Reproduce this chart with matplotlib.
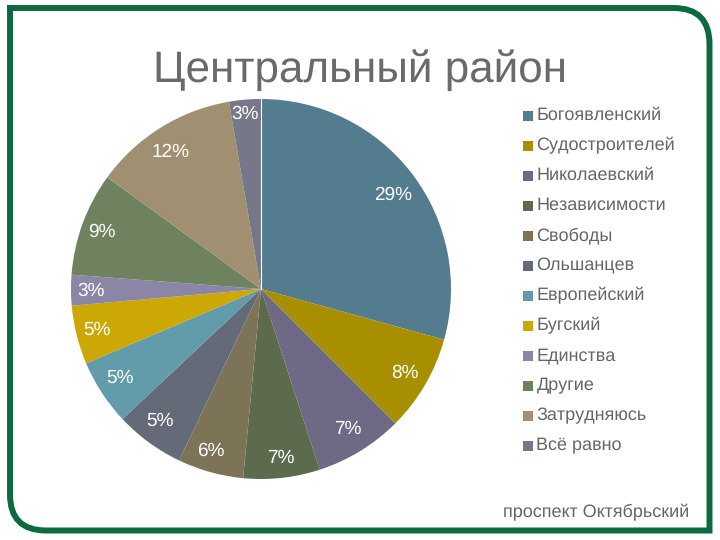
# Pie chart - Центральный район
import matplotlib
matplotlib.use("Agg")
import matplotlib.pyplot as plt
from matplotlib.path import Path
from matplotlib.patches import PathPatch

plt.rcParams['font.family'] = ['Liberation Sans', 'DejaVu Sans']
plt.rcParams['text.hinting'] = 'no_hinting'
plt.rcParams['text.hinting_factor'] = 1

names = ["Богоявленский", "Судостроителей", "Николаевский", "Независимости", "Свободы", "Ольшанцев",
         "Европейский", "Бугский", "Единства", "Другие", "Затрудняюсь", "Всё равно"]
# values, the printed labels are rounded
shares = [29.3, 8.2, 7.5, 6.5, 5.6, 5.9, 5.6, 5.0, 2.6, 8.8, 12.3, 2.7]
pct_labels = ["29%", "8%", "7%", "7%", "6%", "5%", "5%", "5%", "3%", "9%", "12%", "3%"]
colors = ["#537C8E", "#A88F00", "#6E6A85", "#5C6A4E", "#7D7357", "#646A78",
          "#629BAA", "#CCA805", "#8B85A6", "#6F8260", "#A08F70", "#76788A"]

# label centres in pixels
label_xy = [(393, 195), (405, 373), (348, 429), (281, 458), (211, 451), (160, 421),
            (120, 378), (97, 330), (91, 291), (102, 232), (171, 152), (245, 114)]

W, H = 720, 540
GREEN = "#0B6B3F"
TXT = "#666666"

fig = plt.figure(figsize=(W / 100, H / 100), dpi=100)

# pixel canvas for frame and texts
bg = fig.add_axes([0, 0, 1, 1])
bg.set_xlim(0, W)
bg.set_ylim(H, 0)
bg.axis("off")

# frame, top right and bottom left corners are rounded
l, t, r, b, rad = 10, 8, 709.5, 530.5, 36
verts = [(l, t), (r - rad, t), (r, t), (r, t + rad), (r, b), (l + rad, b), (l, b), (l, b - rad), (l, t), (l, t)]
codes = [Path.MOVETO, Path.LINETO, Path.CURVE3, Path.CURVE3, Path.LINETO, Path.LINETO,
         Path.CURVE3, Path.CURVE3, Path.LINETO, Path.CLOSEPOLY]
bg.add_patch(PathPatch(Path(verts, codes), fc="white", ec=GREEN, lw=4.3, joinstyle="miter"))

bg.text(360, 70, "Центральный район", fontsize=31.4, color="#6A6A6A", ha="center", va="center")

# pie, centre 261,289 radius 190
cx, cy, rp = 261, 289, 190
ax = fig.add_axes([(cx - rp) / W, 1 - (cy + rp) / H, 2 * rp / W, 2 * rp / H])
wedges, _ = ax.pie(shares, colors=colors, startangle=90, counterclock=False, radius=1,
                   wedgeprops={"linewidth": 0})
# only the seam at twelve o'clock shows a clean white edge
ax.plot([0, 0], [0, 1], color="white", lw=0.8)
ax.set_xlim(-1, 1)
ax.set_ylim(-1, 1)

top = fig.add_axes([0, 0, 1, 1])
top.set_xlim(0, W)
top.set_ylim(H, 0)
top.axis("off")
top.patch.set_alpha(0)

for lab, (x, y) in zip(pct_labels, label_xy):
    top.text(x, y, lab, fontsize=13.4, color="white", ha="center", va="center")

# legend written by hand to hit the row spacing
for i, (name, col) in enumerate(zip(names, colors)):
    y = 115.5 + i * 30.05
    top.add_patch(plt.Rectangle((523, y - 5), 10, 10, fc=col, ec="none"))
    top.text(536.5, y, name, fontsize=12.9, color=TXT, ha="left", va="center")

top.text(689, 512, "проспект Октябрьский", fontsize=13, color=TXT, ha="right", va="center")

fig.savefig("out.png", dpi=100)
